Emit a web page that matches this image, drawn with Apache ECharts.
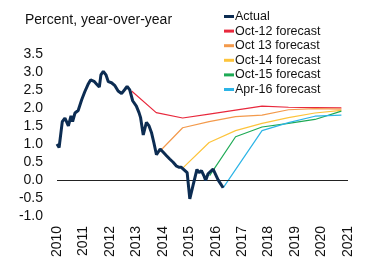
<!DOCTYPE html>
<html>
<head>
<meta charset="utf-8">
<script src="https://cdn.jsdelivr.net/npm/echarts@6/dist/echarts.min.js"></script>
<style>
  html, body { margin: 0; padding: 0; background: #fff; }
  #chart { width: 365px; height: 260px; }
</style>
</head>
<body>
<div id="chart"></div>
<script>
// data: [year, percent]
var actual = [
  [2010.0, 1.0], [2010.08, 0.9], [2010.2, 1.62], [2010.3, 1.72], [2010.36, 1.62],
  [2010.43, 1.5], [2010.53, 1.78], [2010.59, 1.62], [2010.68, 1.86], [2010.8, 1.93],
  [2010.93, 2.22], [2011.05, 2.45], [2011.17, 2.65], [2011.27, 2.78], [2011.4, 2.74],
  [2011.5, 2.66], [2011.6, 2.58], [2011.66, 2.92], [2011.75, 3.02], [2011.85, 2.92],
  [2011.94, 2.73], [2012.06, 2.7], [2012.19, 2.62], [2012.31, 2.47], [2012.44, 2.4],
  [2012.57, 2.52], [2012.65, 2.6], [2012.75, 2.5], [2012.82, 2.47], [2012.86, 2.2],
  [2012.92, 2.25], [2013.0, 2.05], [2013.1, 1.87], [2013.16, 1.73], [2013.26, 1.25],
  [2013.38, 1.6], [2013.48, 1.5], [2013.57, 1.32], [2013.66, 1.04], [2013.76, 0.7],
  [2013.9, 0.86], [2014.0, 0.78], [2014.14, 0.67], [2014.26, 0.58], [2014.39, 0.49],
  [2014.52, 0.38], [2014.62, 0.35], [2014.7, 0.35], [2014.77, 0.34], [2014.92, 0.2],
  [2015.02, -0.53], [2015.14, -0.16], [2015.29, 0.29], [2015.37, 0.2], [2015.46, 0.26],
  [2015.55, 0.12], [2015.62, -0.02], [2015.71, 0.17], [2015.77, 0.12], [2015.9, 0.3],
  [2015.96, 0.25], [2016.09, 0.0], [2016.15, -0.07], [2016.21, -0.1], [2016.28, -0.22]
];
var oct12 = [[2012.82, 2.47], [2013.75, 1.87], [2014.75, 1.72], [2015.75, 1.83], [2016.75, 1.94],
  [2017.75, 2.05], [2018.75, 2.02], [2019.75, 2.01], [2020.75, 2.0]];
var oct13 = [[2013.76, 0.7], [2014.75, 1.45], [2015.75, 1.62], [2016.75, 1.76], [2017.75, 1.8],
  [2018.75, 1.95], [2019.75, 1.98], [2020.75, 1.97]];
var oct14 = [[2014.77, 0.34], [2015.75, 1.04], [2016.75, 1.37], [2017.75, 1.57], [2018.75, 1.73],
  [2019.75, 1.86], [2020.75, 1.93]];
var oct15 = [[2015.77, 0.12], [2016.75, 1.2], [2017.75, 1.47], [2018.75, 1.57], [2019.75, 1.68],
  [2020.75, 1.91]];
var apr16 = [[2016.28, -0.22], [2017.75, 1.37], [2018.75, 1.59], [2019.75, 1.77], [2020.75, 1.8]];

var names = ['Actual', 'Oct-12 forecast', 'Oct 13 forecast', 'Oct-14 forecast', 'Oct-15 forecast', 'Apr-16 forecast'];
var colors = ['#0c2c52', '#e8283c', '#f39a4c', '#fdc43c', '#1eaa55', '#2cb4e6'];
var seriesData = [actual, oct12, oct13, oct14, oct15, apr16];

var font = 'Liberation Sans, Arial, sans-serif';
var myChart = echarts.init(document.getElementById('chart'));

var series = seriesData.map(function (d, i) {
  return {
    name: names[i],
    type: 'line',
    data: d,
    showSymbol: false,
    symbol: 'none',
    z: i == 0 ? 5 : 3,
    lineStyle: { color: colors[i], width: i == 0 ? 3 : 1.2 },
    itemStyle: { color: colors[i] }
  };
});
// zero line
series[0].markLine = {
  silent: true,
  symbol: 'none',
  label: { show: false },
  lineStyle: { color: '#222', width: 1, type: 'solid' },
  data: [{ yAxis: 0 }]
};

var option = {
  animation: false,
  textStyle: { fontFamily: font },
  title: {
    text: 'Percent, year-over-year',
    left: 20, top: 8,
    textStyle: { fontSize: 14, fontWeight: 'normal', color: '#111', fontFamily: font }
  },
  legend: {
    orient: 'vertical',
    left: 219, top: 5,
    itemWidth: 10, itemHeight: 3, itemGap: 1.6,
    icon: 'rect',
    data: names,
    textStyle: { fontSize: 12.5, color: '#111', padding: [0, 0, 0, -4], fontFamily: font }
  },
  grid: { left: 57, right: 17, top: 54, bottom: 43, containLabel: false },
  xAxis: {
    type: 'value',
    min: 2010, max: 2021, interval: 1,
    axisLine: { show: false },
    axisTick: { show: false },
    splitLine: { show: false },
    axisLabel: {
      rotate: 90, fontSize: 14, color: '#111', margin: 10, fontFamily: font,
      formatter: function (v) { return String(v); }
    }
  },
  yAxis: {
    type: 'value',
    min: -1, max: 3.5, interval: 0.5,
    axisLine: { show: false },
    axisTick: { show: false },
    splitLine: { show: false },
    axisLabel: {
      fontSize: 14, color: '#111', margin: 14, fontFamily: font,
      formatter: function (v) { return v.toFixed(1); }
    }
  },
  series: series
};

myChart.setOption(option);
</script>
</body>
</html>
